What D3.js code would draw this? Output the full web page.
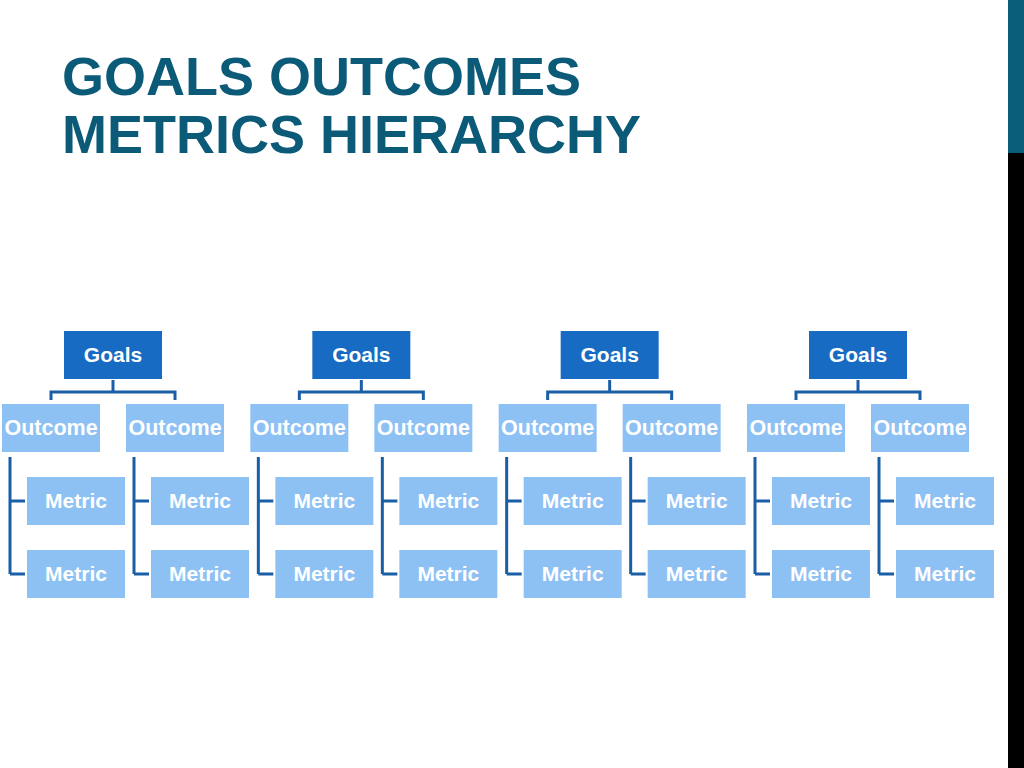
<!DOCTYPE html><html><head><meta charset="utf-8"><script src="https://cdn.jsdelivr.net/npm/d3@7"></script>
<style>body{margin:0;background:#fff}svg{display:block}</style></head><body><svg id="c" width="1024" height="768"></svg>
<script>
const titleLines = ["GOALS OUTCOMES","METRICS HIERARCHY"];
const goals = ["Goals","Goals","Goals","Goals"];
const outcomes = ["Outcome","Outcome"];
const metrics = ["Metric","Metric"];

const svg = d3.select("#c");
svg.append("rect").attr("x",1008).attr("y",0).attr("width",16).attr("height",768).attr("fill","#000");
svg.append("rect").attr("x",1008).attr("y",0).attr("width",16).attr("height",153).attr("fill","#0b5e78");
svg.selectAll("text.t").data(titleLines).join("text").attr("class","t")
  .attr("x",62).attr("y",(d,i)=>95+i*58).attr("fill","#0b5a78")
  .attr("font-family","Liberation Sans, Arial, sans-serif").attr("font-weight","bold").attr("font-size",54).text(d=>d);

const gx = d3.scalePoint().domain(d3.range(goals.length)).range([64,809]);
const ox = d3.scalePoint().domain(d3.range(outcomes.length)).range([-62,62]);
const my = d3.scalePoint().domain(d3.range(metrics.length)).range([477,550]);
const W=98,H=48, line="#1a5ea6";
const font="Liberation Sans, Arial, sans-serif";
function box(g,x,y,fill,label,fs){
  g.append("rect").attr("x",x).attr("y",y).attr("width",W).attr("height",H).attr("fill",fill);
  g.append("text").attr("x",x+W/2).attr("y",y+H/2+7).attr("text-anchor","middle").attr("fill","#fff")
    .attr("font-family",font).attr("font-weight","bold").attr("font-size",fs).text(label);
}
goals.forEach((gl,gi)=>{
  const g = svg.append("g").attr("transform",`translate(${gx(gi)},0)`);
  box(g,0,331,"#176bc2",gl,21);
  const cx = W/2;
  const ocx = outcomes.map((_,i)=>ox(i)+W/2);
  g.append("path").attr("fill","none").attr("stroke",line).attr("stroke-width",3)
    .attr("d",`M${cx},380V392M${ocx[0]},400V392H${ocx[1]}V400`);
  outcomes.forEach((ol,oi)=>{
    const x = ox(oi);
    box(g,x,404,"#8ec1f3",ol,21.5);
    const lx = x+8;
    g.append("path").attr("fill","none").attr("stroke",line).attr("stroke-width",3)
      .attr("d",`M${lx},457V${my(metrics.length-1)+H/2}`+metrics.map((_,mi)=>`M${lx},${my(mi)+H/2}H${lx+15}`).join(""));
    metrics.forEach((ml,mi)=>box(g,x+25,my(mi),"#8ec1f3",ml,21));
  });
});
</script></body></html>
